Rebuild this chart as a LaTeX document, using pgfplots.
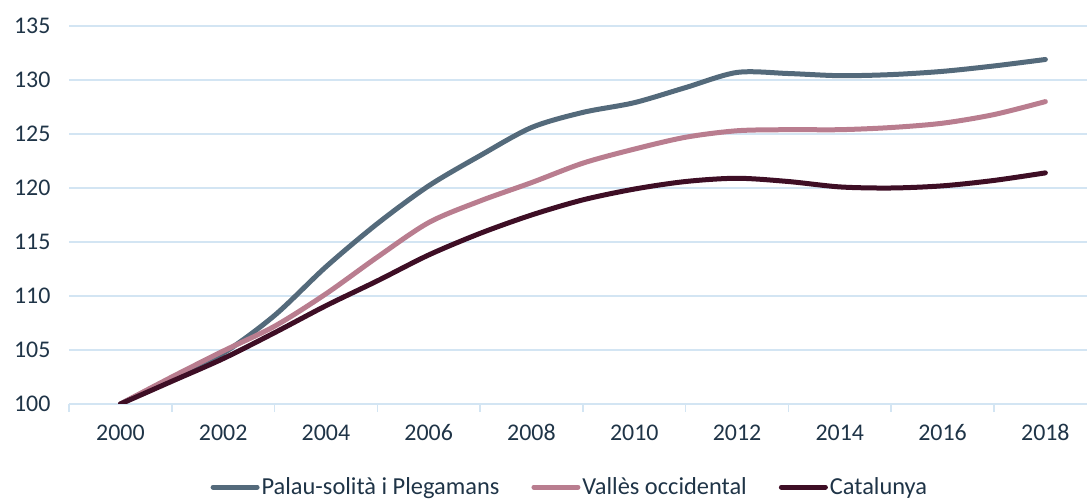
\documentclass[border=0pt]{standalone}
\usepackage{pgfplots}
\pgfplotsset{compat=1.18}
\usepackage{fontspec}
\setmainfont{Carlito}
\definecolor{cPal}{HTML}{546A7B}
\definecolor{cVal}{HTML}{B97D8F}
\definecolor{cCat}{HTML}{3E0E25}
\definecolor{cGrid}{HTML}{D3E5F3}
\definecolor{cTxt}{HTML}{1F3447}
\begin{document}
\begin{tikzpicture}
\begin{axis}[
  at={(69bp,95bp)}, anchor=south west,
  scale only axis, width=1018bp, height=378bp,
  xmin=1999, xmax=2018.81, ymin=100, ymax=135,
  xtick={2000,2002,...,2018},
  minor xtick={1999,2001,...,2017},
  ytick={100,105,...,135},
  xtick pos=bottom, ytick pos=left,
  tick align=outside,
  major tick length=0bp, minor tick length=8bp,
  every tick/.style={draw=cGrid, line width=1.5bp},
  axis line style={draw=none},
  ymajorgrids, major grid style={draw=cGrid, line width=1.5bp},
  /pgf/number format/assume math mode=true,
  xticklabel={\pgfmathprintnumber[1000 sep={}]{\tick}},
  yticklabel={\pgfmathprintnumber{\tick}},
  tick label style={font=\fontsize{24}{28}\selectfont, text=cTxt},
  xticklabel style={yshift=-17bp},
  yticklabel style={xshift=-15bp},
  legend columns=3,
  legend style={at={(0.492,-0.22)}, anchor=center, draw=none, fill=none,
    font=\fontsize{24.5}{28}\selectfont, text=cTxt,
    /tikz/every even column/.append style={column sep=30bp},
    nodes={inner xsep=2bp},
    inner sep=0pt, row sep=0pt},
  legend cell align=left,
  legend image code/.code={\draw[#1, line width=5bp, line cap=round] (0bp,0bp) -- (44bp,0bp);},
  every axis plot/.append style={line width=5bp, line cap=round, smooth, tension=0.5},
]
\addplot[cPal] coordinates {
(2000,100) (2001,102.4) (2002,104.7) (2003,108.2) (2004,112.7) (2005,116.7)
(2006,120.2) (2007,123.0) (2008,125.6) (2009,127.0) (2010,127.9) (2011,129.3)
(2012,130.7) (2013,130.6) (2014,130.4) (2015,130.5) (2016,130.8) (2017,131.3) (2018,131.9)};
\addlegendentry{Palau-solità i Plegamans}
\addplot[cVal] coordinates {
(2000,100) (2001,102.5) (2002,104.9) (2003,107.2) (2004,110.2) (2005,113.6)
(2006,116.8) (2007,118.8) (2008,120.5) (2009,122.3) (2010,123.6) (2011,124.7)
(2012,125.3) (2013,125.4) (2014,125.4) (2015,125.6) (2016,126.0) (2017,126.8) (2018,128.0)};
\addlegendentry{Vallès occidental}
\addplot[cCat] coordinates {
(2000,100) (2001,102.1) (2002,104.2) (2003,106.6) (2004,109.1) (2005,111.4)
(2006,113.8) (2007,115.8) (2008,117.5) (2009,118.9) (2010,119.9) (2011,120.6)
(2012,120.9) (2013,120.6) (2014,120.1) (2015,120.0) (2016,120.2) (2017,120.7) (2018,121.4)};
\addlegendentry{Catalunya}
\end{axis}
\pgfresetboundingbox
\path (0bp,0bp) rectangle (1087bp,499bp);
\end{tikzpicture}
\end{document}
